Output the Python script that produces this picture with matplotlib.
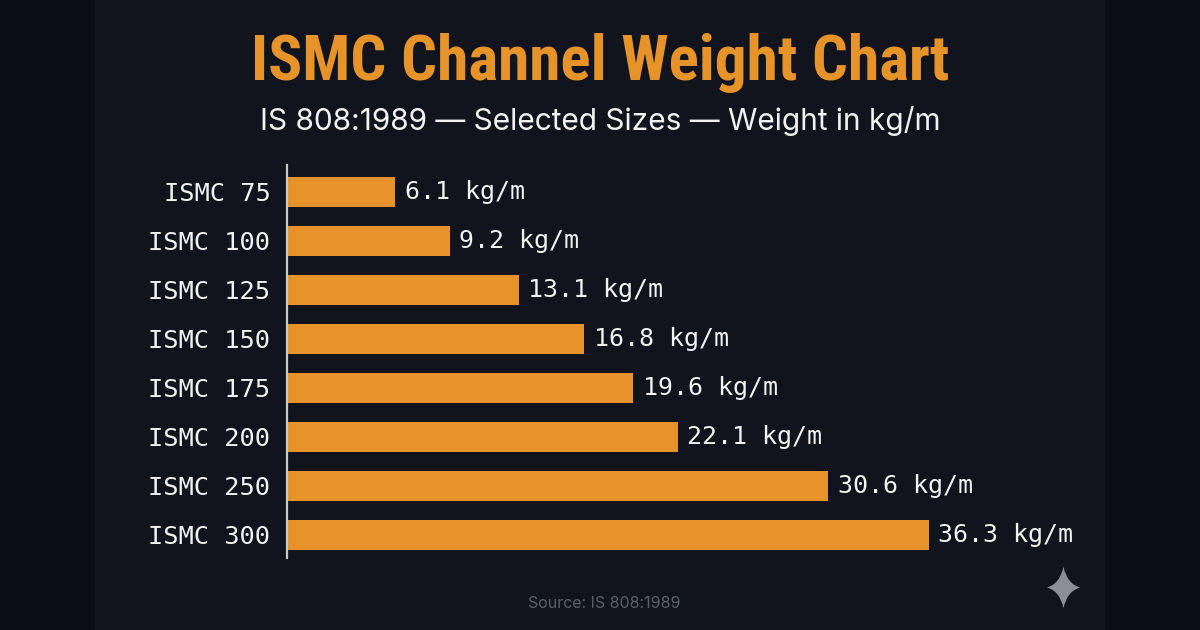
import matplotlib
matplotlib.use("Agg")
import matplotlib.pyplot as plt
from matplotlib import font_manager
from matplotlib.patches import Rectangle
from matplotlib.lines import Line2D
from matplotlib.path import Path

sizes = ["ISMC 75", "ISMC 100", "ISMC 125", "ISMC 150",
         "ISMC 175", "ISMC 200", "ISMC 250", "ISMC 300"]
weights = [6.1, 9.2, 13.1, 16.8, 19.6, 22.1, 30.6, 36.3]
unit = "kg/m"

title = "ISMC Channel Weight Chart"
subtitle = "IS 808:1989 \u2014 Selected Sizes \u2014 Weight in kg/m"
source = "Source: IS 808:1989"

BG_OUT = "#0b0e15"
BG = "#11141d"
ORANGE = "#e6942a"
WHITE = "#f2f2f2"


def condensed_family():
    # look for any condensed bold face on the box, else fall back
    names = set()
    for f in font_manager.fontManager.ttflist:
        st = str(f.stretch)
        if ("condensed" in st or st.isdigit() and int(st) < 500) and f.weight in (600, 700, 800, "bold"):
            names.add(f.name)
    for pref in ["Roboto Condensed", "Open Sans Condensed", "DejaVu Sans", "Liberation Sans Narrow"]:
        if pref in names:
            return pref, "condensed"
    return "Roboto", "normal"


fam, stretch = condensed_family()

fig = plt.figure(figsize=(12, 6.3), dpi=100)
fig.patch.set_facecolor(BG_OUT)
fig.add_artist(Rectangle((95 / 1200, 0), 1010 / 1200, 1, transform=fig.transFigure,
                         facecolor=BG, edgecolor="none", zorder=0))

ax = fig.add_axes([287 / 1200, 72 / 630, 813 / 1200, 393 / 630])
ax.set_facecolor("none")
ypos = list(range(len(sizes)))
bars = ax.barh(ypos, weights, height=0.6, color=ORANGE, zorder=2)
ax.set_xlim(0, 46)
ax.set_ylim(len(sizes) - 0.53, -0.55)
ax.set_yticks(ypos)
ax.set_yticklabels(sizes, family="DejaVu Sans Mono", fontsize=18.3, color=WHITE)
ax.tick_params(axis="y", length=0, pad=12)
ax.set_xticks([])
for s in ["top", "right", "bottom"]:
    ax.spines[s].set_visible(False)
ax.spines["left"].set_color("#c9c9c9")
ax.spines["left"].set_linewidth(1.6)

for b, w in zip(bars, weights):
    ax.annotate(f"{w:.1f} {unit}", (w, b.get_y() + b.get_height() / 2),
                xytext=(7, 0), textcoords="offset points", va="center", ha="left",
                family="DejaVu Sans Mono", fontsize=18, color=WHITE)

fig.text(0.5, 1 - 63 / 630, title, ha="center", va="center", color=ORANGE,
         fontsize=45.5 if stretch == "condensed" else 38, fontweight="bold",
         family=fam, fontstretch=stretch)
fig.text(0.5, 1 - 121 / 630, subtitle, ha="center", va="center", color=WHITE,
         fontsize=21.5, family="Inter")
fig.text(604 / 1200, 1 - 604 / 630, source, ha="center", va="center",
         color="#5a5f6b", fontsize=11.5, family="Inter")

# sparkle mark bottom right
k = 0.17
w = 0.8
star = Path([(0, 1), (k, k), (w, 0), (k, -k), (0, -1), (-k, -k), (-w, 0), (-k, k), (0, 1)],
            [Path.MOVETO, Path.CURVE3, Path.CURVE3, Path.CURVE3, Path.CURVE3,
             Path.CURVE3, Path.CURVE3, Path.CURVE3, Path.CURVE3])
fig.add_artist(Line2D([1063 / 1200], [1 - 587 / 630], marker=star, markersize=30,
                      color="#8b8e97", markeredgewidth=0, transform=fig.transFigure))

fig.savefig("out.png", dpi=100, facecolor=fig.get_facecolor())
